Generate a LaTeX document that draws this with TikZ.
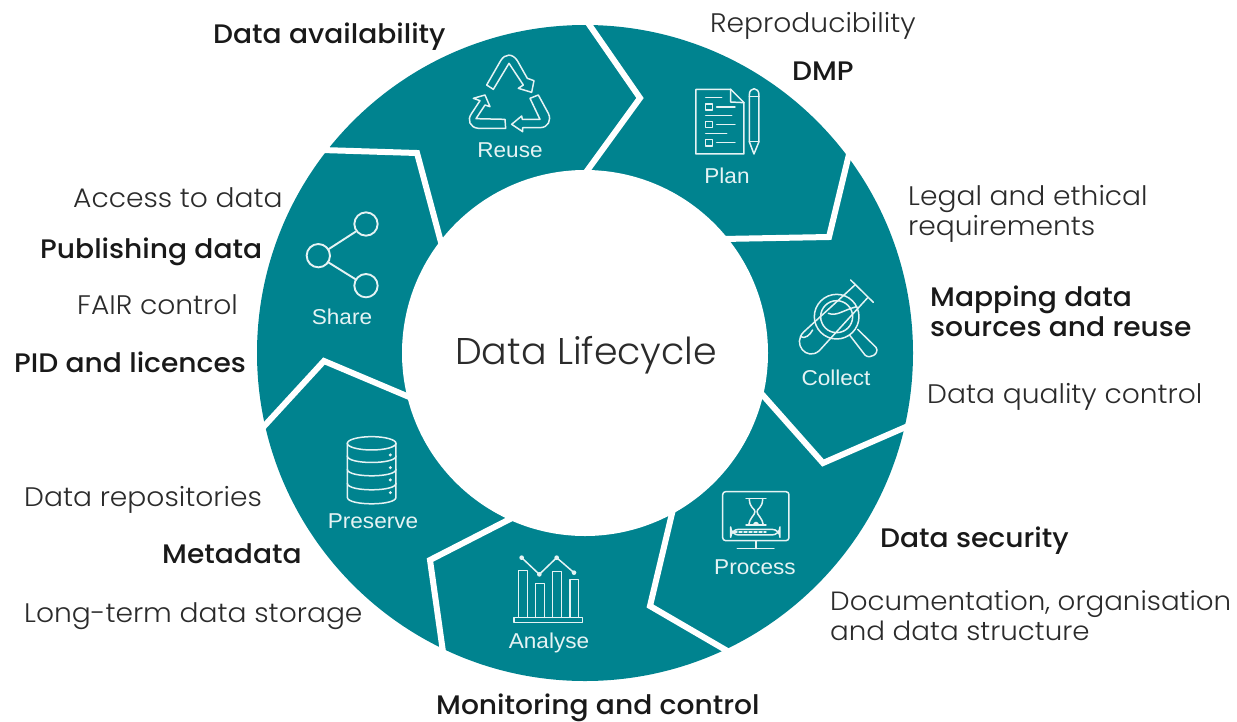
\documentclass[tikz,border=0pt]{standalone}
\usepackage{fontspec}
\setmainfont{Poppins}[UprightFont=* Light,BoldFont=* Medium,FakeStretch=1.05]
\newfontfamily\titlefont{Poppins}[UprightFont=* Light,FakeStretch=1.02]
\newfontfamily\iconfont{Liberation Sans}[FakeStretch=1.05]
\definecolor{ringteal}{HTML}{00838F}
\definecolor{inktext}{HTML}{2B2B2B}
\tikzset{
  gap/.style={draw=white,line width=6pt,line join=miter,line cap=butt},
  icon/.style={draw=white!90!ringteal,line width=1.5pt,line join=round,line cap=round},
  stagelabel/.style={text=white!90!ringteal,font=\iconfont\fontsize{21.5}{21.5}\selectfont,inner sep=0pt},
  item/.style={text=inktext,font=\fontsize{26.8}{30.5}\selectfont,inner sep=0pt,align=left},
  keyitem/.style={item,text=black!90,font=\fontsize{26.8}{30}\selectfont\bfseries},
  title/.style={text=inktext,font=\titlefont\fontsize{37.2}{40}\selectfont,inner sep=0pt},
  zoomA/.style={shift={(440,30)},x=0.3333pt,y=-0.3333pt},
  zoomB/.style={shift={(680,260)},x=0.3333pt,y=-0.3333pt},
  zoomC/.style={shift={(290,200)},x=0.3333pt,y=-0.3333pt},
  zoomD/.style={shift={(490,540)},x=0.3333pt,y=-0.3333pt}
}
\begin{document}
\begin{tikzpicture}[x=1pt,y=-1pt]
\useasboundingbox (0,0) rectangle (1237,721);
\fill[white] (0,0) rectangle (1237,721);
% ring
\coordinate (c) at (585,353);
\fill[ringteal] (c) circle[radius=328];
\fill[white] (c) circle[radius=183];
% gaps between the segments
\draw[gap] (586,20) -- (640,98) -- (584,175);
\draw[gap] (851,146) -- (829,237) -- (722,239);
\draw[gap] (915,423) -- (823,463) -- (760,392);
\draw[gap] (736,656) -- (650,606) -- (674,505);
\draw[gap] (443,652) -- (430,560) -- (512,518);
\draw[gap] (256,435) -- (324,361) -- (414,399);
\draw[gap] (322,150) -- (417,153) -- (442,246);
% Reuse icon
\begin{scope}[zoomA]
\draw[icon] (140,165) -- (182,92) .. controls (195,70) and (218,70) .. (232,92) -- (262,145) -- (282,152) -- (275,187) -- (235,175) -- (250,165) -- (207,100) -- (160,178) -- cycle;
\draw[icon] (270,205) -- (295,195) -- (325,250) .. controls (335,270) and (325,293) .. (300,293) -- (248,293) -- (248,305) -- (215,283) -- (245,258) -- (247,268) -- (300,268) -- cycle;
\draw[icon] (195,268) -- (197,295) -- (115,295) .. controls (90,293) and (80,270) .. (95,250) -- (120,212) -- (100,205) -- (135,195) -- (150,230) -- (135,225) -- (108,266) -- cycle;
% Plan icon
\draw[icon] (768,178) -- (872,178) -- (912,218) -- (912,372) -- (768,372) -- cycle;
\draw[icon] (872,178) -- (872,216) -- (912,218);
\draw[icon] (797,203) -- (845,203);
\draw[icon] (797,222) rectangle (818,240);
\draw[icon] (830,231) -- (885,231);
\draw[icon] (797,257) -- (875,257);
\draw[icon] (797,275) rectangle (818,293);
\draw[icon] (830,284) -- (885,284);
\draw[icon] (797,310) -- (860,310);
\draw[icon] (797,329) rectangle (818,348);
\draw[icon] (830,338) -- (885,338);
\draw[icon] (928,335) -- (928,195) .. controls (928,170) and (957,170) .. (957,195) -- (957,335) -- (942,372) -- cycle;
\draw[icon] (928,200) -- (957,200);
\draw[icon] (928,335) -- (957,335);
\end{scope}
% Collect and Process icons
\begin{scope}[zoomB]
\draw[icon] (470,170) circle[radius=67];
\draw[icon] (470,170) circle[radius=48];
\draw[icon] (508,224) -- (555,285) .. controls (570,300) and (600,280) .. (588,262) -- (533,208);
\draw[icon] (512,60) -- (580,127);
\draw[icon] (526,74) -- (372,215) .. controls (335,250) and (380,305) .. (418,272) -- (564,112);
\draw[icon] (445,160) .. controls (470,170) and (490,150) .. (530,140);
\draw[icon] (362,230) .. controls (375,238) and (390,225) .. (398,210);
\draw[icon,rounded corners=3pt] (128,695) rectangle (327,842);
\draw[icon] (228,842) -- (228,866);
\draw[icon] (172,866) -- (282,866);
\draw[icon] (198,716) -- (258,716);
\draw[icon] (198,795) -- (258,795);
\draw[icon] (208,716) .. controls (208,745) and (225,745) .. (225,755) .. controls (225,765) and (208,775) .. (206,795);
\draw[icon] (248,716) .. controls (248,745) and (231,745) .. (231,755) .. controls (231,765) and (248,775) .. (250,795);
\fill[white!90!ringteal] (218,795) .. controls (222,782) and (234,782) .. (238,795) -- cycle;
\draw[icon,rounded corners=8pt] (152,808) rectangle (300,825);
\draw[icon,dash pattern=on 3pt off 2pt] (162,816) -- (258,816);
\end{scope}
% Share and Preserve icons
\begin{scope}[zoomC]
\draw[icon,line width=1.9pt] (228,72) circle[radius=35];
\draw[icon,line width=1.9pt] (85,167) circle[radius=35];
\draw[icon,line width=1.9pt] (228,257) circle[radius=35];
\draw[icon,line width=1.9pt] (197,95) -- (115,148);
\draw[icon,line width=1.9pt] (115,187) -- (197,238);
\draw[icon] (172,730) -- (172,892) .. controls (172,918) and (318,918) .. (318,892) -- (318,730);
\draw[icon] (245,730) ellipse[x radius=73,y radius=20];
\draw[icon] (172,768) .. controls (172,794) and (318,794) .. (318,768);
\draw[icon] (172,808) .. controls (172,834) and (318,834) .. (318,808);
\draw[icon] (172,850) .. controls (172,876) and (318,876) .. (318,850);
\foreach \dy in {765,803,840,878} \fill[white!90!ringteal] (301,\dy) circle[radius=5];
\end{scope}
% Analyse icon
\begin{scope}[zoomD]
\draw[icon] (85,232) -- (85,92) -- (112,92) -- (112,232);
\draw[icon] (137,232) -- (137,130) -- (163,130) -- (163,232);
\draw[icon] (188,232) -- (188,95) -- (215,95) -- (215,232);
\draw[icon] (240,232) -- (240,118) -- (265,118) -- (265,232);
\draw[icon] (72,232) rectangle (278,247);
\draw[icon] (95,53) -- (148,103) -- (200,53) -- (252,98);
\foreach \px/\py in {95/53,148/103,200/53,252/98} \fill[white!90!ringteal] (\px,\py) circle[radius=7];
\end{scope}
% stage labels
\node[stagelabel] (reuse) at (510,150) {Reuse};
\node[stagelabel] (plan) at (727,176) {Plan};
\node[stagelabel] (collect) at (836,378) {Collect};
\node[stagelabel] (process) at (755,567) {Process};
\node[stagelabel] (analyse) at (549,643) {Analyse};
\node[stagelabel] (preserve) at (373,521) {Preserve};
\node[stagelabel] (share) at (342,317) {Share};
% title
\node[title,anchor=base west] (lifecycle) at (455,364) {Data Lifecycle};
% items
\node[keyitem,anchor=base west] (avail) at (213,43) {Data availability};
\node[item,anchor=base west] (repro) at (710,32) {Reproducibility};
\node[keyitem,anchor=base west] (dmp) at (792,80) {DMP};
\node[item,anchor=west] (legal) at (908,214) {Legal and ethical\\requirements};
\node[keyitem,anchor=west] (mapping) at (930,311) {Mapping data\\sources and reuse};
\node[item,anchor=base west] (quality) at (927,403) {Data quality control};
\node[keyitem,anchor=base west] (security) at (880,547) {Data security};
\node[item,anchor=west,font=\fontsize{26.4}{30}\selectfont] (docu) at (830,616) {Documentation, organisation\\and data structure};
\node[keyitem,anchor=base west] (monitor) at (436,714) {Monitoring and control};
\node[item,anchor=base west] (storage) at (24,622) {Long-term data storage};
\node[keyitem,anchor=base west] (metadata) at (162,563) {Metadata};
\node[item,anchor=base west] (repos) at (24,506) {Data repositories};
\node[keyitem,anchor=base west] (pid) at (14,372) {PID and licences};
\node[item,anchor=base west] (fair) at (77,314) {FAIR control};
\node[keyitem,anchor=base west] (publish) at (40,258) {Publishing data};
\node[item,anchor=base west] (access) at (73,207) {Access to data};
\end{tikzpicture}
\end{document}
